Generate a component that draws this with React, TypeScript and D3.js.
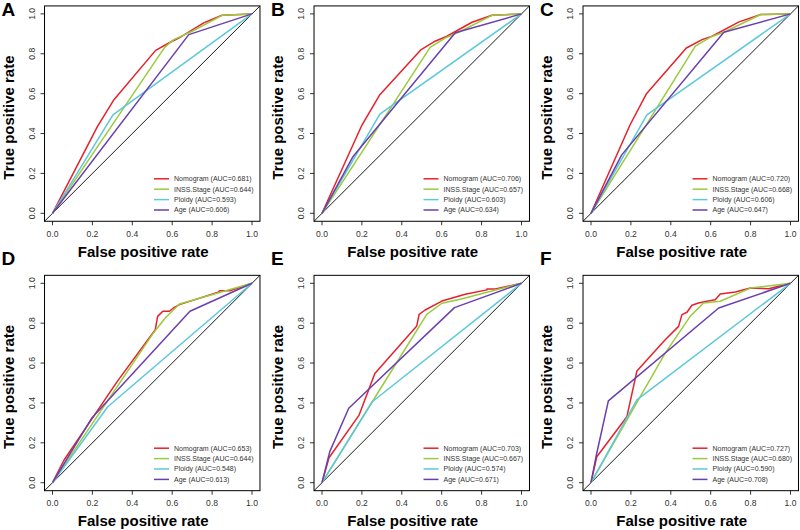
import React from "react";
import * as d3 from "d3";

type Pt = [number, number];

// ---------- data ----------
const panelLetters = ["A", "B", "C", "D", "E", "F"];
const seriesNames = ["Nomogram", "INSS.Stage", "Ploidy", "Age"];
const seriesColors = ["#e8202a", "#9acb3c", "#5cc8dc", "#6a3fae"];
const xTicks = [0, 0.2, 0.4, 0.6, 0.8, 1.0];
const yTicks = [0, 0.2, 0.4, 0.6, 0.8, 1.0];

const aucA = [0.681, 0.644, 0.593, 0.606];
const aucB = [0.706, 0.657, 0.603, 0.634];
const aucC = [0.72, 0.668, 0.606, 0.647];
const aucD = [0.653, 0.644, 0.548, 0.613];
const aucE = [0.703, 0.667, 0.574, 0.671];
const aucF = [0.727, 0.68, 0.59, 0.708];

// Panel A
const nomogramA: Pt[] = [[0, 0], [0.225, 0.435], [0.308, 0.57], [0.517, 0.817], [0.583, 0.854], [0.633, 0.879], [0.758, 0.955], [0.79, 0.968], [0.85, 0.993], [1, 1]];
const stageA: Pt[] = [[0, 0], [0.562, 0.832], [0.608, 0.871], [0.7, 0.913], [0.85, 0.993], [1, 1]];
const ploidyA: Pt[] = [[0, 0], [0.303, 0.494], [1, 1]];
const ageA: Pt[] = [[0, 0], [0.683, 0.896], [1, 1]];

// Panel B
const nomogramB: Pt[] = [[0, 0], [0.201, 0.444], [0.29, 0.595], [0.497, 0.821], [0.567, 0.863], [0.626, 0.888], [0.752, 0.958], [0.852, 0.993], [1, 1]];
const stageB: Pt[] = [[0, 0], [0.542, 0.832], [0.617, 0.879], [0.685, 0.908], [0.852, 0.993], [1, 1]];
const ploidyB: Pt[] = [[0, 0], [0.29, 0.497], [1, 1]];
const ageB: Pt[] = [[0, 0], [0.156, 0.285], [0.668, 0.905], [1, 1]];

// Panel C
const nomogramC: Pt[] = [[0, 0], [0.196, 0.444], [0.277, 0.598], [0.478, 0.829], [0.557, 0.871], [0.607, 0.888], [0.742, 0.96], [0.851, 0.997], [1, 1]];
const stageC: Pt[] = [[0, 0], [0.523, 0.838], [0.599, 0.884], [0.666, 0.908], [0.851, 0.997], [1, 1]];
const ploidyC: Pt[] = [[0, 0], [0.28, 0.494], [1, 1]];
const ageC: Pt[] = [[0, 0], [0.154, 0.293], [0.666, 0.908], [1, 1]];

// Panel D
const nomogramD: Pt[] = [[0, 0], [0.058, 0.114], [0.324, 0.507], [0.515, 0.767], [0.527, 0.834], [0.553, 0.86], [0.586, 0.86], [0.606, 0.876], [0.636, 0.893], [0.83, 0.955], [0.839, 0.963], [0.889, 0.963], [1, 1]];
const stageD: Pt[] = [[0, 0], [0.506, 0.751], [0.565, 0.826], [0.636, 0.896], [1, 1]];
const ploidyD: Pt[] = [[0, 0], [0.277, 0.381], [1, 1]];
const ageD: Pt[] = [[0, 0], [0.196, 0.323], [0.689, 0.86], [1, 1]];

// Panel E
const nomogramE: Pt[] = [[0, 0], [0.035, 0.125], [0.186, 0.339], [0.265, 0.548], [0.475, 0.786], [0.487, 0.844], [0.517, 0.866], [0.601, 0.911], [0.718, 0.945], [0.827, 0.967], [0.827, 0.972], [0.869, 0.972], [1, 1]];
const stageE: Pt[] = [[0, 0], [0.252, 0.406], [0.525, 0.844], [0.601, 0.9], [0.693, 0.92], [1, 1]];
const ploidyE: Pt[] = [[0, 0], [0.252, 0.406], [1, 1]];
const ageE: Pt[] = [[0, 0], [0.039, 0.156], [0.134, 0.373], [0.664, 0.878], [1, 1]];

// Panel F
const nomogramF: Pt[] = [[0, 0], [0.029, 0.13], [0.18, 0.331], [0.23, 0.56], [0.372, 0.717], [0.439, 0.784], [0.456, 0.843], [0.481, 0.855], [0.506, 0.89], [0.539, 0.901], [0.581, 0.91], [0.623, 0.918], [0.648, 0.946], [0.724, 0.956], [0.799, 0.976], [0.891, 0.973], [1, 1]];
const stageF: Pt[] = [[0, 0], [0.372, 0.65], [0.497, 0.834], [0.564, 0.901], [0.648, 0.91], [0.799, 0.976], [1, 1]];
const ploidyF: Pt[] = [[0, 0], [0.23, 0.415], [1, 1]];
const ageF: Pt[] = [[0, 0], [0.025, 0.13], [0.087, 0.41], [0.64, 0.876], [1, 1]];

const panelSeries: Pt[][][] = [
  [nomogramA, stageA, ploidyA, ageA],
  [nomogramB, stageB, ploidyB, ageB],
  [nomogramC, stageC, ploidyC, ageC],
  [nomogramD, stageD, ploidyD, ageD],
  [nomogramE, stageE, ploidyE, ageE],
  [nomogramF, stageF, ploidyF, ageF],
];
const panelAucs = [aucA, aucB, aucC, aucD, aucE, aucF];

// ---------- layout ----------
const W = 800;
const H = 530;
const colX0 = [52.5, 322, 591];
const rowY0 = [213.3, 482.7];
const PW = 199.5;
const PH = 199.4;
const FONT = "'Liberation Sans', Arial, Helvetica, sans-serif";

function Panel({ idx }: { idx: number }) {
  const c = idx % 3;
  const r = Math.floor(idx / 3);
  const x = d3.scaleLinear().domain([0, 1]).range([colX0[c], colX0[c] + PW]);
  const y = d3.scaleLinear().domain([0, 1]).range([rowY0[r], rowY0[r] - PH]);
  const line = d3
    .line<Pt>()
    .x((d) => x(d[0]))
    .y((d) => y(d[1]));
  const bx0 = x(-0.04);
  const bx1 = x(1.04);
  const by0 = y(-0.04);
  const by1 = y(1.04);
  const series = panelSeries[idx];
  const aucs = panelAucs[idx];
  const legX = x(0) + 101.5;
  const legY = y(0) - 34.5;
  const midX = x(0.5);
  const midY = y(0.5);
  return (
    <g>
      <text x={x(0) - 51} y={r === 0 ? 16 : 264.5} fontFamily={FONT} fontWeight="bold" fontSize={19} fill="#000">
        {panelLetters[idx]}
      </text>
      {/* diagonal */}
      <line x1={bx0} y1={by0} x2={bx1} y2={by1} stroke="#000" strokeWidth={0.9} />
      {series.map((s, i) => (
        <path key={i} d={line(s) || ""} fill="none" stroke={seriesColors[i]} strokeWidth={1.5} strokeLinejoin="round" />
      ))}
      {/* box */}
      <rect x={bx0} y={by1} width={bx1 - bx0} height={by0 - by1} fill="none" stroke="#000" strokeWidth={1} />
      {/* x ticks */}
      {xTicks.map((t) => (
        <g key={"x" + t}>
          <line x1={x(t)} x2={x(t)} y1={by0} y2={by0 + 4} stroke="#000" strokeWidth={0.8} />
          <text x={x(t)} y={y(0) + 23.4} textAnchor="middle" fontFamily={FONT} fontSize={8.6} fill="#333">
            {t.toFixed(1)}
          </text>
        </g>
      ))}
      {/* y ticks */}
      {yTicks.map((t) => (
        <g key={"y" + t}>
          <line x1={bx0} x2={bx0 - 4} y1={y(t)} y2={y(t)} stroke="#000" strokeWidth={0.8} />
          <text
            transform={`translate(${x(0) - 18},${y(t)}) rotate(-90)`}
            textAnchor="middle"
            fontFamily={FONT}
            fontSize={8.6}
            fill="#333"
          >
            {t.toFixed(1)}
          </text>
        </g>
      ))}
      {/* axis labels */}
      <text x={midX - 9} y={y(0) + 43.5} textAnchor="middle" fontFamily={FONT} fontWeight="bold" fontSize={15} fill="#000">
        False positive rate
      </text>
      <text
        transform={`translate(${x(0) - 39},${midY + 4}) rotate(-90)`}
        textAnchor="middle"
        fontFamily={FONT}
        fontWeight="bold"
        fontSize={15}
        fill="#000"
      >
        True positive rate
      </text>
      {/* legend */}
      {seriesNames.map((n, i) => (
        <g key={"l" + i}>
          <line x1={legX} x2={legX + 15} y1={legY + i * 10.4} y2={legY + i * 10.4} stroke={seriesColors[i]} strokeWidth={1.5} />
          <text x={legX + 20} y={legY + i * 10.4} dy="0.35em" fontFamily={FONT} fontSize={7} fill="#333">
            {`${n} (AUC=${aucs[i].toFixed(3)})`}
          </text>
        </g>
      ))}
    </g>
  );
}

export default function App() {
  return (
    <svg
      width={W}
      height={H}
      viewBox={`0 0 ${W} ${H}`}
      style={{ position: "absolute", left: 0, top: 0, background: "#fff" }}
    >
      <rect x={0} y={0} width={W} height={H} fill="#fff" />
      {panelLetters.map((_, i) => (
        <Panel key={i} idx={i} />
      ))}
    </svg>
  );
}
